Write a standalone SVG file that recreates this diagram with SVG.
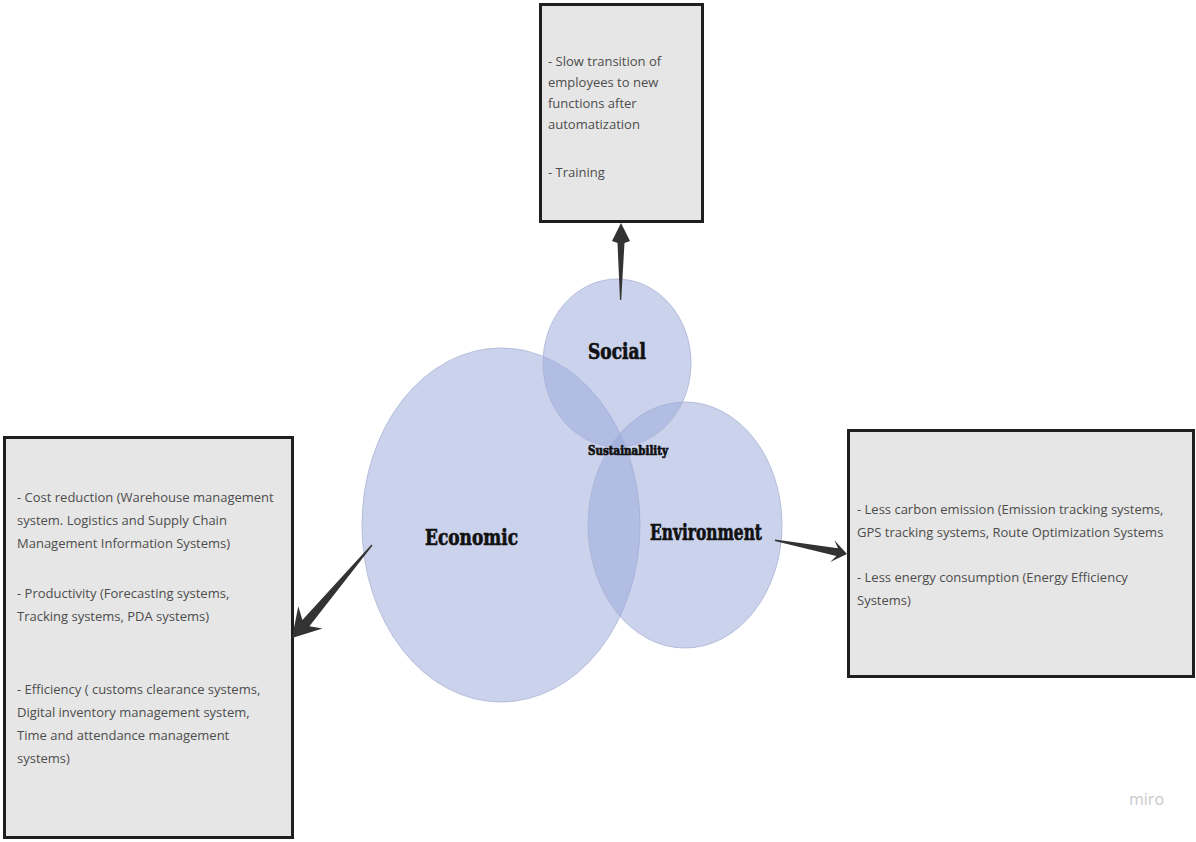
<svg xmlns="http://www.w3.org/2000/svg" width="1196" height="842" viewBox="0 0 1196 842">
  <style>
    .box { fill: #e6e6e6; stroke: #1f1f1f; stroke-width: 3; }
    .body { font-family: "Open Sans", "Liberation Sans", sans-serif; font-size: 13px; fill: #4d4d4d; }
    .bubble { fill: #98a8da; fill-opacity: 0.5; stroke: #aab3d6; stroke-width: 0.8; }
    .label { font-family: "DejaVu Serif", "Liberation Serif", serif; font-weight: bold; fill: #111111; stroke: #111111; stroke-width: 0.7; }
    .arrow { fill: #333333; }
    .brand { font-family: "Open Sans", "Liberation Sans", sans-serif; font-size: 16px; fill: #c9c9c9; }
  </style>

  <rect width="1196" height="842" fill="#ffffff"/>

  <!-- Venn bubbles -->
  <g id="economic">
    <ellipse class="bubble" cx="501" cy="525" rx="139" ry="177"/>
    <text class="label" x="425" y="545" font-size="22" textLength="93" lengthAdjust="spacingAndGlyphs">Economic</text>
  </g>
  <g id="environment">
    <ellipse class="bubble" cx="685" cy="525" rx="97" ry="123"/>
    <text class="label" x="650" y="540" font-size="22" textLength="112" lengthAdjust="spacingAndGlyphs">Environment</text>
  </g>
  <g id="social">
    <ellipse class="bubble" cx="617" cy="363" rx="74" ry="84"/>
    <text class="label" x="588" y="359" font-size="22" textLength="58" lengthAdjust="spacingAndGlyphs">Social</text>
  </g>
  <g id="sustainability">
    <text class="label" x="588" y="455" font-size="12" stroke-width="0.4" textLength="80" lengthAdjust="spacingAndGlyphs">Sustainability</text>
  </g>

  <!-- Detail boxes -->
  <g id="social-box">
    <rect class="box" x="540.5" y="4.5" width="162" height="217"/>
    <text class="body" x="548" y="66">- Slow transition of</text>
    <text class="body" x="548" y="87">employees to new</text>
    <text class="body" x="548" y="108">functions after</text>
    <text class="body" x="548" y="129">automatization</text>
    <text class="body" x="548" y="177">- Training</text>
  </g>

  <g id="economic-box">
    <rect class="box" x="4.5" y="437.5" width="288" height="400"/>
    <text class="body" x="17" y="502">- Cost reduction (Warehouse management</text>
    <text class="body" x="17" y="525">system. Logistics and Supply Chain</text>
    <text class="body" x="17" y="548">Management Information Systems)</text>
    <text class="body" x="17" y="598">- Productivity (Forecasting systems,</text>
    <text class="body" x="17" y="621">Tracking systems, PDA systems)</text>
    <text class="body" x="17" y="694">- Efficiency ( customs clearance systems,</text>
    <text class="body" x="17" y="717">Digital inventory management system,</text>
    <text class="body" x="17" y="740">Time and attendance management</text>
    <text class="body" x="17" y="763">systems)</text>
  </g>

  <g id="environment-box">
    <rect class="box" x="848.5" y="430.5" width="345" height="246"/>
    <text class="body" x="857" y="514">- Less carbon emission (Emission tracking systems,</text>
    <text class="body" x="857" y="537">GPS tracking systems, Route Optimization Systems</text>
    <text class="body" x="857" y="582">- Less energy consumption (Energy Efficiency</text>
    <text class="body" x="857" y="605">Systems)</text>
  </g>

  <!-- Tapered connectors with notched heads -->
  <g id="connectors">
    <polygon class="arrow" points="620,300 617.5,243 612,241 621,223 630,241 624.5,243 621.2,300"/>
    <polygon class="arrow" points="372.5,545.5 309.4,626.2 322.5,628.4 292,638 298.3,606.2 302.4,620 371.5,544.5"/>
    <polygon class="arrow" points="775,539.5 838,548.2 834.4,540.3 847,554 830.2,561.9 836.4,556 774.8,541"/>
  </g>

  <text class="brand" x="1129" y="805">miro</text>
</svg>
